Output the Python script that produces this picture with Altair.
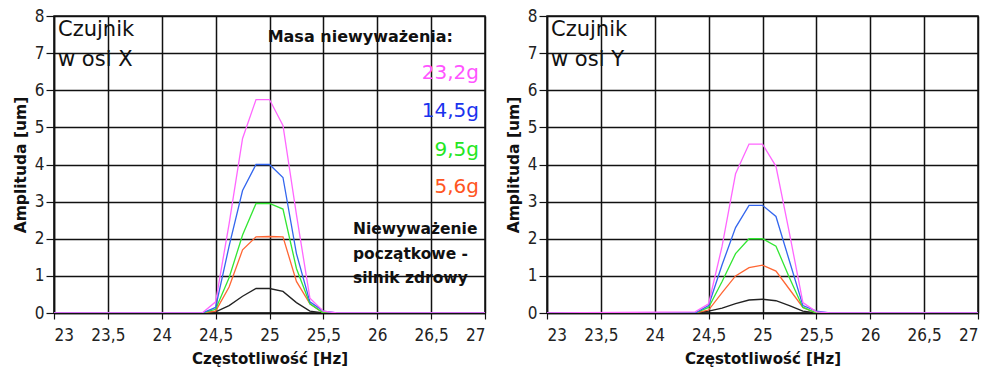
import altair as alt
import pandas as pd

# Frequency sweep around the 25 Hz rotation speed
freq = [23, 24.375, 24.5, 24.625, 24.75, 24.875, 25.0, 25.125, 25.25, 25.375, 25.5, 25.625, 27]

series_names = ["0g", "5,6g", "9,5g", "14,5g", "23,2g"]
series_colors = ["#222222", "#ff6633", "#33e633", "#3366ee", "#ff66ff"]

# Sensor in X axis: amplitude [um] for each unbalance mass
x_amp = {
    "0g":    [0, 0, 0.03, 0.20, 0.45, 0.66, 0.66, 0.58, 0.28, 0.05, 0, 0, 0],
    "5,6g":  [0, 0, 0.05, 0.70, 1.70, 2.05, 2.06, 2.05, 0.85, 0.25, 0, 0, 0],
    "9,5g":  [0, 0, 0.10, 0.95, 2.10, 2.95, 2.95, 2.80, 1.20, 0.25, 0, 0, 0],
    "14,5g": [0, 0, 0.15, 1.80, 3.30, 4.00, 4.00, 3.65, 1.60, 0.30, 0.05, 0, 0],
    "23,2g": [0, 0, 0.30, 2.40, 4.70, 5.75, 5.75, 5.05, 2.65, 0.40, 0.05, 0, 0],
}

# Sensor in Y axis
y_amp = {
    "0g":    [0, 0, 0.05, 0.13, 0.25, 0.35, 0.37, 0.33, 0.20, 0.05, 0, 0, 0],
    "5,6g":  [0, 0, 0.08, 0.55, 1.00, 1.22, 1.29, 1.13, 0.64, 0.15, 0, 0, 0],
    "9,5g":  [0, 0, 0.15, 0.85, 1.60, 2.00, 2.00, 1.80, 0.95, 0.15, 0, 0, 0],
    "14,5g": [0, 0, 0.20, 1.30, 2.30, 2.90, 2.90, 2.60, 1.40, 0.20, 0.05, 0, 0],
    "23,2g": [0, 0.03, 0.25, 1.80, 3.75, 4.55, 4.55, 3.95, 2.15, 0.28, 0.03, 0, 0],
}

x_ticks = [23, 23.5, 24, 24.5, 25, 25.5, 26, 26.5, 27]
y_ticks = [0, 1, 2, 3, 4, 5, 6, 7, 8]

panel_titles = [["Czujnik", "w osi X"], ["Czujnik", "w osi Y"]]
legend_header = "Masa niewyważenia:"
legend_masses = ["23,2g", "14,5g", "9,5g", "5,6g"]
legend_mass_colors = ["#ff55ff", "#1a33ee", "#22e622", "#ff5522"]
legend_base = ["Niewyważenie", "początkowe -", "silnik zdrowy"]

FONT = "DejaVu Sans"
TICK_FONT = "Liberation Sans Narrow, DejaVu Sans Condensed, DejaVu Sans"
W, H = 431, 297


def long_frame(amp):
    rows = []
    for i, name in enumerate(series_names):
        for f, a in zip(freq, amp[name]):
            rows.append({"f": f, "a": a, "s": name, "o": i})
    return pd.DataFrame(rows)


def text_layer(text, x, y, size, color="#111111", bold=False, align="left"):
    return alt.Chart(alt.Data(values=[{}])).mark_text(
        text=text, font=FONT, fontSize=size, color=color,
        fontWeight="bold" if bold else "normal", align=align, baseline="alphabetic",
    ).encode(x=alt.value(x), y=alt.value(y))


def panel(amp, title_lines, with_legend):
    df = long_frame(amp)
    lines = alt.Chart(df).mark_line(strokeWidth=1.3, clip=True).encode(
        x=alt.X("f:Q", scale=alt.Scale(domain=[23, 27], nice=False, zero=False),
                axis=alt.Axis(values=x_ticks, title="Częstotliwość [Hz]",
                              labelExpr="replace(toString(datum.value), '.', ',')",
                              tickSize=6, labelPadding=8, titlePadding=8,
                              titleFontSize=15)),
        y=alt.Y("a:Q", scale=alt.Scale(domain=[0, 8], nice=False),
                axis=alt.Axis(values=y_ticks, title="Amplituda [um]",
                              tickSize=8, labelPadding=2, titlePadding=6,
                              titleFontSize=15.5)),
        color=alt.Color("s:N", scale=alt.Scale(domain=series_names, range=series_colors),
                        legend=None),
        order=alt.Order("o:Q"),
    )
    layers = [lines,
              text_layer(title_lines[0], 4, 20, 21),
              text_layer(title_lines[1], 4, 50, 21)]
    if with_legend:
        layers.append(text_layer(legend_header, 399, 26, 16, bold=True, align="right"))
        for lbl, col, yy in zip(legend_masses, legend_mass_colors, [63, 101, 140, 177]):
            layers.append(text_layer(lbl, 425, yy, 20, color=col, align="right"))
        for lbl, yy in zip(legend_base, [218, 243, 267]):
            layers.append(text_layer(lbl, 299, yy, 15.5, bold=True))
    return alt.layer(*layers).properties(width=W, height=H)


chart = alt.hconcat(
    panel(x_amp, panel_titles[0], True),
    panel(y_amp, panel_titles[1], False),
    spacing=62, bounds="flush",
).properties(
    padding={"left": 12, "top": 6, "right": 0, "bottom": 0},
    background="white",
).configure_view(
    stroke="#111111", strokeWidth=1.5,
).configure_axis(
    grid=True, gridColor="#111111", gridWidth=1.5, gridOpacity=1,
    domainColor="#111111", domainWidth=1.5, tickColor="#111111", tickWidth=1.2,
    labelFont=TICK_FONT, labelFontSize=17, labelColor="#222222",
    titleFont=FONT, titleFontWeight="bold", titleColor="#111111",
)

chart.save("out.html", embed_options={"renderer": "svg", "actions": False})
